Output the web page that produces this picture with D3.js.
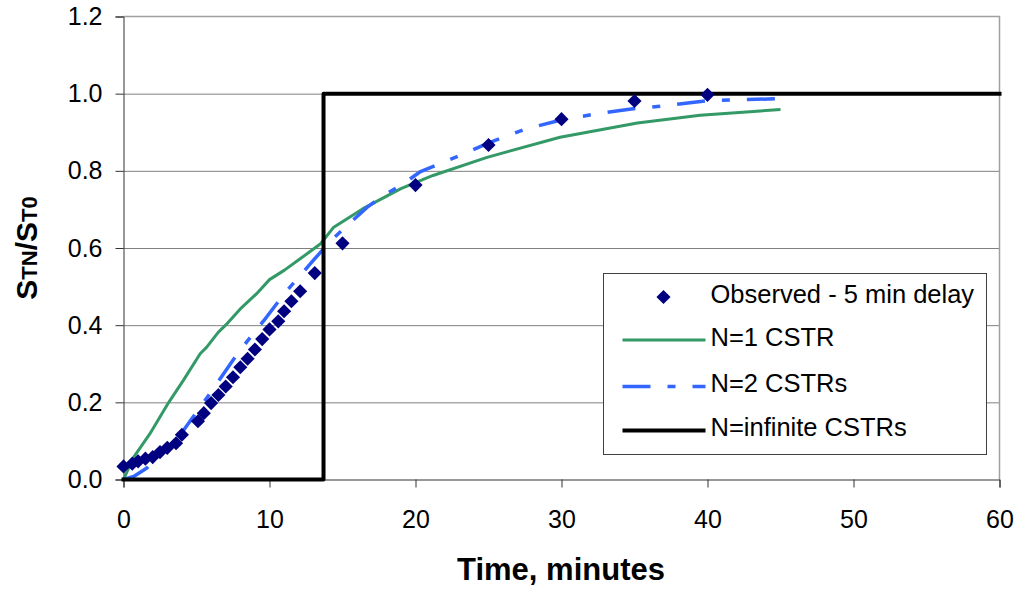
<!DOCTYPE html>
<html>
<head>
<meta charset="utf-8">
<script src="https://cdn.jsdelivr.net/npm/d3@7"></script>
<style>
    body { margin: 0; background: #fff; }
    text { font-family: "Liberation Sans", Arial, sans-serif; fill: #000; }
</style>
</head>
<body>
<div id="chart"></div>
<script>
// observed tracer response, shifted by 5 min delay
var obsTime = [0, 0.6, 1, 1.5, 2, 2.5, 3, 3.6, 4, 5.1, 5.5, 6, 6.5, 7, 7.5, 8, 8.5, 9, 9.5, 10, 10.6, 11, 11.5, 12.1, 13.1, 15, 20, 25, 30, 35, 40];
var obsValue = [0.034, 0.041, 0.047, 0.054, 0.058, 0.071, 0.082, 0.094, 0.116, 0.151, 0.172, 0.198, 0.219, 0.241, 0.265, 0.291, 0.313, 0.337, 0.364, 0.389, 0.410, 0.436, 0.462, 0.488, 0.535, 0.612, 0.763, 0.867, 0.934, 0.981, 0.997];

// N=1 CSTR model
var cstr1Time = [0, 0.7, 1.8, 3.1, 4.1, 5.25, 5.7, 6.5, 7.1, 8, 9.1, 10, 11, 12.1, 13.5, 14.4, 16.4, 19, 21.2, 24.9, 29.9, 35.2, 39.5, 45];
var cstr1Value = [0, 0.058, 0.118, 0.200, 0.257, 0.326, 0.343, 0.382, 0.404, 0.442, 0.481, 0.518, 0.542, 0.572, 0.611, 0.654, 0.702, 0.754, 0.788, 0.835, 0.887, 0.924, 0.944, 0.959];

// N=2 CSTRs model
var cstr2Time = [0, 0.7, 1.6, 4.1, 5.9, 7.8, 8.7, 9.8, 11, 13, 14.2, 16.7, 17.8, 19, 20.3, 21.9, 23.3, 25.1, 27.6, 29.9, 32.4, 34.9, 37.2, 40, 41.8, 45];
var cstr2Value = [0, 0.008, 0.030, 0.127, 0.222, 0.326, 0.369, 0.421, 0.481, 0.568, 0.619, 0.706, 0.736, 0.762, 0.797, 0.822, 0.844, 0.874, 0.909, 0.931, 0.948, 0.961, 0.969, 0.982, 0.984, 0.987];

// N=infinite CSTRs (plug flow)
var plugTime = [0, 13.7, 13.7, 60];
var plugValue = [0, 0, 1, 1];

var xTicks = [0, 10, 20, 30, 40, 50, 60];
var yTicks = [0, 0.2, 0.4, 0.6, 0.8, 1.0, 1.2];
var gridTicks = [0.2, 0.4, 0.6, 0.8, 1.0];

var legendLabels = ["Observed - 5 min delay", "N=1 CSTR", "N=2 CSTRs", "N=infinite CSTRs"];

var w = 1020;
var h = 592;

var xScale = d3.scaleLinear().domain([0, 60]).range([123.5, 999.5]);
var yScale = d3.scaleLinear().domain([0, 1.2]).range([479.5, 16.5]);

function zip(t, v) {
    return t.map(function(d, i) { return { time: d, value: v[i] }; });
}

function drawLine(xs, ys) {
    return d3.line()
        .x((d) => xs(d.time))
        .y((d) => ys(d.value));
}

var diamond = d3.symbol().type(d3.symbolSquare).size(100);

var series = [
    { data: zip(cstr1Time, cstr1Value), stroke: "#339966", width: 3, dash: null, cap: "butt" },
    { data: zip(cstr2Time, cstr2Value), stroke: "#3366ff", width: 3.5, dash: "28,17,8,17", cap: "butt" },
    { data: zip(plugTime, plugValue), stroke: "#000", width: 4, dash: null, cap: "square" }
];

var svg = d3.select("#chart")
    .append("svg")
    .attr("width", w)
    .attr("height", h);

// horizontal grid
svg.append("g")
    .attr("class", "grid horizontal")
    .attr("transform", "translate(" + xScale(0) + ",0)")
    .call(d3.axisLeft(yScale)
        .tickValues(gridTicks)
        .tickSize(-(xScale(60) - xScale(0)))
        .tickFormat("")
    )
    .call(g => g.select(".domain").remove())
    .selectAll("line")
    .attr("stroke", "#808080");

// plot border top + right
svg.append("path")
    .attr("d", "M" + xScale(0) + "," + yScale(1.2) + "H" + xScale(60) + "V" + yScale(0))
    .attr("fill", "none")
    .attr("stroke", "#a0a0a0")
    .attr("stroke-width", 1.5);

var xAxis = d3.axisBottom(xScale).tickValues(xTicks).tickSize(8).tickPadding(23).tickFormat(d3.format("d"));
var yAxis = d3.axisLeft(yScale).tickValues(yTicks).tickSize(8).tickPadding(13).tickFormat(d3.format(".1f"));

svg.append("g")
    .attr("class", "x-axis")
    .attr("transform", "translate(0," + yScale(0) + ")")
    .call(xAxis);

svg.append("g")
    .attr("class", "y-axis")
    .attr("transform", "translate(" + xScale(0) + ",0)")
    .call(yAxis);

svg.selectAll(".x-axis, .y-axis")
    .call(g => g.selectAll(".domain, line").attr("stroke", "#333"))
    .call(g => g.selectAll("text").attr("font-size", 25).attr("font-family", "Liberation Sans, Arial, sans-serif").attr("fill", "#000"));

// model lines
series.forEach(function(s) {
    svg.append("path")
        .datum(s.data)
        .attr("d", drawLine(xScale, yScale))
        .attr("fill", "none")
        .attr("stroke", s.stroke)
        .attr("stroke-width", s.width)
        .attr("stroke-dasharray", s.dash)
        .attr("stroke-linecap", s.cap)
        .attr("stroke-linejoin", "round");
});

// observed markers
svg.append("g")
    .selectAll("path.obs")
    .data(zip(obsTime, obsValue))
    .enter().append("path")
    .attr("class", "obs")
    .attr("d", diamond)
    .attr("transform", (d) => "translate(" + xScale(d.time) + "," + yScale(d.value) + ") rotate(45)")
    .attr("fill", "#000080");

// axis titles
svg.append("text")
    .attr("x", 561)
    .attr("y", 580)
    .attr("text-anchor", "middle")
    .attr("font-size", 31)
    .attr("font-weight", "bold")
    .text("Time, minutes");

var yTitle = svg.append("text")
    .attr("transform", "translate(37,248) rotate(-90)")
    .attr("text-anchor", "middle")
    .attr("font-weight", "bold");
[["S", 30], ["TN", 22], ["/S", 30], ["T0", 22]].forEach(function(p) {
    yTitle.append("tspan").attr("font-size", p[1]).text(p[0]);
});

// legend
var legend = svg.append("g").attr("transform", "translate(603.5,273.5)");
legend.append("rect")
    .attr("width", 383)
    .attr("height", 181)
    .attr("fill", "#fff")
    .attr("stroke", "#404040")
    .attr("stroke-width", 1);

var rowY = [23.5, 66.5, 113, 157];
legend.append("path")
    .attr("d", diamond)
    .attr("transform", "translate(60," + rowY[0] + ") rotate(45)")
    .attr("fill", "#000080");

series.forEach(function(s, i) {
    legend.append("line")
        .attr("x1", 19).attr("x2", 102)
        .attr("y1", rowY[i + 1]).attr("y2", rowY[i + 1])
        .attr("stroke", s.stroke)
        .attr("stroke-width", s.width)
        .attr("stroke-dasharray", s.dash);
});

legend.selectAll("text.lbl")
    .data(legendLabels)
    .enter().append("text")
    .attr("class", "lbl")
    .attr("x", 107)
    .attr("y", (d, i) => rowY[i] + 5.5)
    .attr("font-size", 25.5)
    .text((d) => d);
</script>
</body>
</html>
